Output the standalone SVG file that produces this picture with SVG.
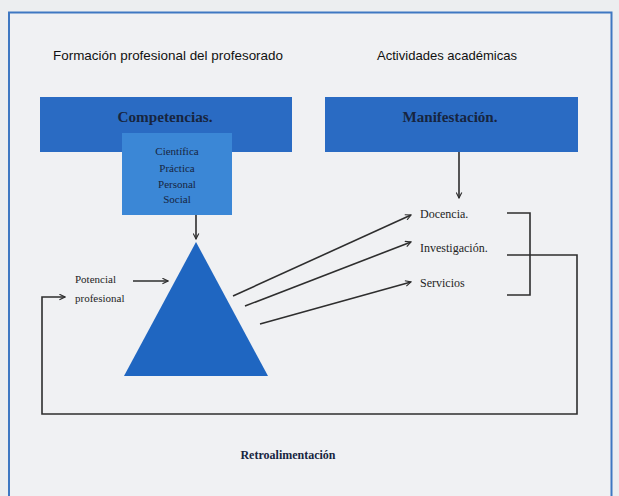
<svg xmlns="http://www.w3.org/2000/svg" width="619" height="496" viewBox="0 0 619 496">
  <style>
    .title { font-family: "Liberation Sans", Arial, sans-serif; font-size: 13px; fill: #111; }
    .boxlabel { font-family: "Liberation Serif", "Times New Roman", serif; font-size: 14px; font-weight: bold; fill: #17253f; text-anchor: middle; }
    .inner { font-family: "Liberation Serif", "Times New Roman", serif; font-size: 11px; fill: #17253f; text-anchor: middle; }
    .item { font-family: "Liberation Serif", "Times New Roman", serif; font-size: 12px; fill: #1e1e1e; }
    .small { font-family: "Liberation Serif", "Times New Roman", serif; font-size: 11px; fill: #1e1e1e; }
    .retro { font-family: "Liberation Serif", "Times New Roman", serif; font-size: 12px; font-weight: bold; fill: #17253f; text-anchor: middle; }
    .conn { fill: none; stroke: #2e2e2e; stroke-width: 1.6; }
    .arrow { fill: none; stroke: #2e2e2e; stroke-width: 1.6; marker-end: url(#arr); }
  </style>
  <defs>
    <marker id="arr" viewBox="0 0 10 10" refX="9" refY="5" markerWidth="7" markerHeight="7" markerUnits="userSpaceOnUse" orient="auto">
      <path d="M1,1 L9,5 L1,9" fill="none" stroke="#2e2e2e" stroke-width="1.6"/>
    </marker>
  </defs>

  <rect x="0" y="0" width="619" height="496" fill="#eceef0"/>
  <path d="M9,500 L9,12.5 L611.5,12.5 L611.5,500" fill="#f0f1f3" stroke="#3f78c2" stroke-width="2"/>

  <g id="title-formacion">
    <text class="title" x="53" y="60" textLength="230" lengthAdjust="spacingAndGlyphs">Formación profesional del profesorado</text>
  </g>
  <g id="title-actividades">
    <text class="title" x="377" y="60" textLength="140" lengthAdjust="spacingAndGlyphs">Actividades académicas</text>
  </g>

  <g id="competencias">
    <rect x="40" y="97" width="252" height="55" fill="#2a6bc3"/>
    <text class="boxlabel" x="165" y="122" textLength="95" lengthAdjust="spacingAndGlyphs">Competencias.</text>
  </g>

  <g id="tipos">
    <rect x="122" y="133" width="110" height="82" fill="#3b87d6"/>
    <text class="inner" x="177" y="155">Científica</text>
    <text class="inner" x="177" y="172">Práctica</text>
    <text class="inner" x="177" y="188">Personal</text>
    <text class="inner" x="177" y="203">Social</text>
  </g>

  <g id="manifestacion">
    <rect x="325" y="97" width="253" height="55" fill="#2a6bc3"/>
    <text class="boxlabel" x="450" y="122" textLength="95" lengthAdjust="spacingAndGlyphs">Manifestación.</text>
  </g>

  <g id="triangulo">
    <polygon points="196,242 268,376 124,376" fill="#1f66c1"/>
  </g>

  <g id="potencial">
    <text class="small" x="75" y="283">Potencial</text>
    <text class="small" x="75" y="302">profesional</text>
  </g>

  <g id="docencia">
    <text class="item" x="420" y="218">Docencia.</text>
  </g>
  <g id="investigacion">
    <text class="item" x="420" y="252">Investigación.</text>
  </g>
  <g id="servicios">
    <text class="item" x="420" y="287">Servicios</text>
  </g>

  <g id="retroalimentacion">
    <text class="retro" x="288" y="459">Retroalimentación</text>
  </g>

  <g id="connectors">
    <line class="arrow" x1="196" y1="215" x2="196" y2="239"/>
    <line class="arrow" x1="459" y1="152" x2="459" y2="198"/>
    <line class="arrow" x1="133" y1="281" x2="168" y2="281"/>
    <line class="arrow" x1="233" y1="296" x2="411" y2="215"/>
    <line class="arrow" x1="245" y1="306" x2="411" y2="242"/>
    <line class="arrow" x1="260" y1="324" x2="411" y2="282"/>
    <polyline class="conn" points="507,213 530,213 530,295 507,295"/>
    <polyline class="arrow" points="507,255 577,255 577,414 42,414 42,297 65,297"/>
  </g>
</svg>
